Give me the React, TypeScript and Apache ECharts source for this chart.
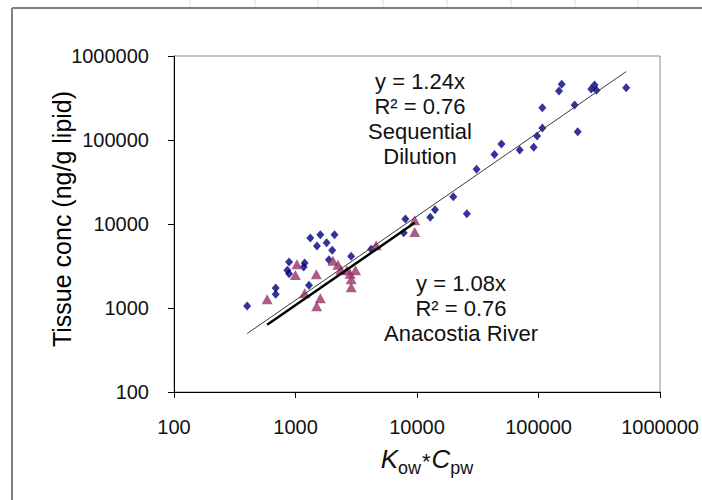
import React, { useEffect, useRef } from 'react';
import * as echarts from 'echarts';

// Sequential dilution (blue diamonds): Kow*Cpw vs tissue conc
const seqX = [400, 687, 687, 885, 857, 885, 1189, 1167, 1291, 1324, 1600, 1501, 1803, 2094, 2004, 1883, 2870, 4190, 8020, 7770, 12850, 14060, 19870, 25700, 30900, 43350, 49500, 70000, 91200, 97300, 107500, 107500, 147300, 155000, 198000, 210000, 271600, 289000, 300000, 526000];
const seqY = [1057, 1730, 1455, 3530, 2805, 2565, 3435, 3076, 1862, 6800, 7460, 5470, 5990, 7460, 4865, 3760, 4120, 4990, 11480, 7890, 12000, 14820, 21130, 13280, 44800, 67400, 89500, 76000, 81800, 111700, 139000, 242700, 383000, 460000, 261000, 125600, 404600, 452000, 390000, 419500];

// Anacostia River (purple triangles)
const anaX = [584, 1028, 997, 1483, 1189, 1600, 1492, 2032, 2234, 2362, 2650, 2817, 2872, 2872, 3118, 4605, 9570, 9570];
const anaY = [1268, 3312, 2472, 2519, 1495, 1303, 1048, 3657, 3281, 2858, 2805, 2565, 2193, 1762, 2805, 5570, 11070, 8040];

// Regression slopes (y = a x)
const seqSlope = 1.24;
const anaSlope = 1.08;
const seqR2 = 0.76;
const anaR2 = 0.76;

// Axis range
const axisMin = 100;
const axisMax = 1000000;

const FONT = '"Liberation Sans", Arial, sans-serif';

function zip(xs: number[], ys: number[]) {
  return xs.map((x, i) => [x, ys[i]]);
}

function trend(xs: number[], a: number) {
  const lo = Math.min(...xs);
  const hi = Math.max(...xs);
  return [[lo, a * lo], [hi, a * hi]];
}

export default function App() {
  const ref = useRef<HTMLDivElement>(null);

  useEffect(() => {
    const chart = echarts.init(ref.current!, null, { renderer: 'svg' });
    const labelFmt = (v: number) => String(Math.round(v));
    const topGridX = [190, 255, 318, 383, 447, 511, 575, 638];

    const option: any = {
      animation: false,
      backgroundColor: '#ffffff',
      grid: {
        left: 174,
        right: 40,
        top: 56,
        bottom: 108,
        show: true,
        borderColor: '#8c8c8c',
        borderWidth: 1,
        backgroundColor: 'transparent',
      },
      xAxis: {
        type: 'log',
        logBase: 10,
        min: axisMin,
        max: axisMax,
        axisLine: { show: true, lineStyle: { color: '#000', width: 1 } },
        axisTick: { show: true, inside: false, length: 6, lineStyle: { color: '#000' } },
        minorTick: { show: false },
        splitLine: { show: false },
        axisLabel: {
          formatter: labelFmt,
          fontSize: 20,
          fontFamily: FONT,
          color: '#111',
          margin: 25,
          showMinLabel: true,
          showMaxLabel: true,
        },
      },
      yAxis: {
        type: 'log',
        logBase: 10,
        min: axisMin,
        max: axisMax,
        axisLine: { show: true, lineStyle: { color: '#000', width: 1 } },
        axisTick: { show: true, inside: false, length: 6, lineStyle: { color: '#000' } },
        splitLine: { show: false },
        axisLabel: {
          formatter: labelFmt,
          fontSize: 20,
          fontFamily: FONT,
          color: '#111',
          margin: 25,
          showMinLabel: true,
          showMaxLabel: true,
        },
      },
      series: [
        {
          name: 'Sequential Dilution',
          type: 'scatter',
          symbol: 'diamond',
          symbolSize: [8, 9],
          itemStyle: { color: '#000080' },
          data: zip(seqX, seqY),
          z: 2,
        },
        {
          name: 'Anacostia River',
          type: 'scatter',
          symbol: 'triangle',
          symbolSize: [11, 10],
          itemStyle: { color: '#993366' },
          data: zip(anaX, anaY),
          z: 2,
        },
        {
          name: 'Sequential trend',
          type: 'line',
          data: trend(seqX, seqSlope),
          showSymbol: false,
          symbol: 'none',
          lineStyle: { color: '#3a3a3a', width: 1 },
          z: 4,
        },
        {
          name: 'Anacostia trend',
          type: 'line',
          data: trend(anaX, anaSlope),
          showSymbol: false,
          symbol: 'none',
          lineStyle: { color: '#000000', width: 2.5 },
          z: 5,
        },
      ],
      graphic: [
        {
          type: 'line',
          shape: { x1: 12, y1: 8, x2: 702, y2: 8 },
          style: { stroke: '#7f7f7f', lineWidth: 2 },
        },
        {
          type: 'line',
          shape: { x1: 12, y1: 8, x2: 12, y2: 500 },
          style: { stroke: '#7f7f7f', lineWidth: 2 },
        },
        ...topGridX.map((gx) => ({
          type: 'line',
          shape: { x1: gx, y1: 0, x2: gx, y2: 7 },
          style: { stroke: '#d6dcee', lineWidth: 1 },
        })),
        {
          type: 'text',
          x: 420,
          y: 119,
          style: {
            text: `y = ${seqSlope.toFixed(2)}x\nR² = ${seqR2.toFixed(2)}\nSequential\nDilution`,
            fontSize: 22,
            fontFamily: FONT,
            lineHeight: 25,
            fill: '#111',
            align: 'center',
            verticalAlign: 'middle',
          },
        },
        {
          type: 'text',
          x: 461,
          y: 308,
          style: {
            text: `y = ${anaSlope.toFixed(2)}x\nR² = ${anaR2.toFixed(2)}\nAnacostia River`,
            fontSize: 22,
            fontFamily: FONT,
            lineHeight: 25,
            fill: '#111',
            align: 'center',
            verticalAlign: 'middle',
          },
        },
        {
          type: 'text',
          x: 62,
          y: 219,
          rotation: Math.PI / 2,
          style: {
            text: 'Tissue conc (ng/g lipid)',
            fontSize: 25,
            fontFamily: FONT,
            fill: '#000',
            align: 'center',
            verticalAlign: 'middle',
          },
        },
        {
          type: 'text',
          x: 427,
          y: 462,
          style: {
            text: '{k|K}{s|ow}{a|*}{k|C}{s|pw}',
            align: 'center',
            verticalAlign: 'middle',
            fill: '#111',
            rich: {
              k: {
                fontSize: 26,
                fontStyle: 'italic',
                fontFamily: FONT,
                fill: '#111',
                verticalAlign: 'bottom',
                lineHeight: 30,
                padding: [0, 0, 5, 0],
              },
              a: {
                fontSize: 22,
                fontFamily: FONT,
                fill: '#111',
                verticalAlign: 'bottom',
                lineHeight: 30,
                padding: [0, 1, 5, 1],
              },
              s: {
                fontSize: 18,
                fontFamily: FONT,
                fill: '#111',
                verticalAlign: 'bottom',
                lineHeight: 22,
              },
            },
          },
        },
      ],
    };

    chart.setOption(option);
    return () => chart.dispose();
  }, []);

  return (
    <div
      ref={ref}
      style={{ position: 'fixed', left: 0, top: 0, width: 702, height: 500, background: '#fff' }}
    />
  );
}
